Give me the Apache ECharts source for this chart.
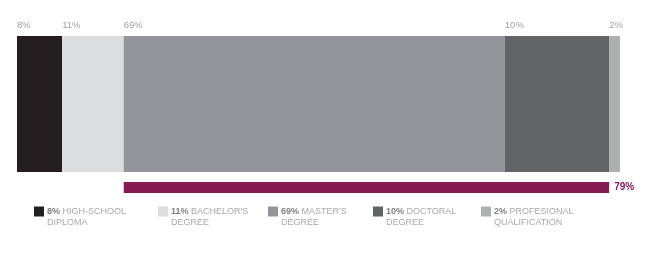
<!DOCTYPE html>
<html>
<head>
<meta charset="utf-8">
<script src="https://cdn.jsdelivr.net/npm/echarts@6/dist/echarts.min.js"></script>
<style>html,body{margin:0;padding:0;background:#fff}#c{width:659px;height:253px}</style>
</head>
<body>
<div id="c"></div>
<script>
// Categories (education levels)
const names = ['HIGH-SCHOOL\nDIPLOMA', "BACHELOR'S\nDEGREE", "MASTER'S\nDEGREE", 'DOCTORAL\nDEGREE', 'PROFESIONAL\nQUALIFICATION'];
// Labelled shares (%)
const shareLabels = ['8%', '11%', '69%', '10%', '2%'];
// Drawn segment lengths (% of bar)
const drawnShares = [7.5, 10.2, 63.2, 17.3, 1.8];
// Combined postgraduate (master's + doctoral) bar
const postgradLabel = '79%';
const colors = ['#231f20', '#dcdddf', '#939598', '#636466', '#aeafb2'];
const accent = '#861b54';

const font = 'Arial, "Liberation Sans", sans-serif';
const chart = echarts.init(document.getElementById('c'));

const series = names.map((n, i) => ({
  name: n,
  type: 'bar',
  stack: 'main',
  xAxisIndex: 0, yAxisIndex: 0,
  barWidth: '100%',
  data: [drawnShares[i]],
  itemStyle: { color: colors[i] },
  label: {
    show: true,
    position: [0, -11],
    align: 'left',
    verticalAlign: 'middle',
    formatter: () => shareLabels[i],
    color: '#a0a2a5',
    fontSize: 9.5,
    fontFamily: font
  },
  emphasis: { disabled: true },
  animation: false
}));

const offset = drawnShares[0] + drawnShares[1];
const postgrad = drawnShares[2] + drawnShares[3];
series.push({
  type: 'bar', stack: 'pg', xAxisIndex: 1, yAxisIndex: 1, barWidth: '100%',
  data: [offset], itemStyle: { color: 'transparent' }, silent: true, animation: false
});
series.push({
  type: 'bar', stack: 'pg', xAxisIndex: 1, yAxisIndex: 1, barWidth: '100%',
  data: [postgrad], itemStyle: { color: accent }, animation: false,
  label: { show: true, position: 'right', distance: 5, formatter: () => postgradLabel,
    color: accent, fontSize: 10, fontWeight: 'bold', fontFamily: font }
});

const legendLefts = [34, 158, 268, 373, 481];
const legends = names.map((n, i) => ({
  data: [n],
  left: legendLefts[i],
  top: 195,
  orient: 'horizontal',
  itemWidth: 10, itemHeight: 10, itemGap: 0,
  icon: 'rect',
  padding: 0,
  selectedMode: false,
  formatter: name => '{b|' + shareLabels[i] + '} ' + name,
  textStyle: {
    color: '#a7a9ac', fontSize: 9, fontFamily: font, lineHeight: 11,
    padding: [11, 0, 0, -2],
    rich: { b: { fontWeight: 'bold', color: '#808285', fontSize: 9, fontFamily: font, lineHeight: 11 } }
  }
}));

chart.setOption({
  animation: false,
  grid: [
    { left: 17, right: 39, top: 36, height: 136 },
    { left: 17, right: 39, top: 182, height: 11 }
  ],
  xAxis: [
    { type: 'value', min: 0, max: 100, show: false, gridIndex: 0 },
    { type: 'value', min: 0, max: 100, show: false, gridIndex: 1 }
  ],
  yAxis: [
    { type: 'category', data: ['all'], show: false, gridIndex: 0 },
    { type: 'category', data: ['postgrad'], show: false, gridIndex: 1 }
  ],
  legend: legends,
  series: series
});
</script>
</body>
</html>
